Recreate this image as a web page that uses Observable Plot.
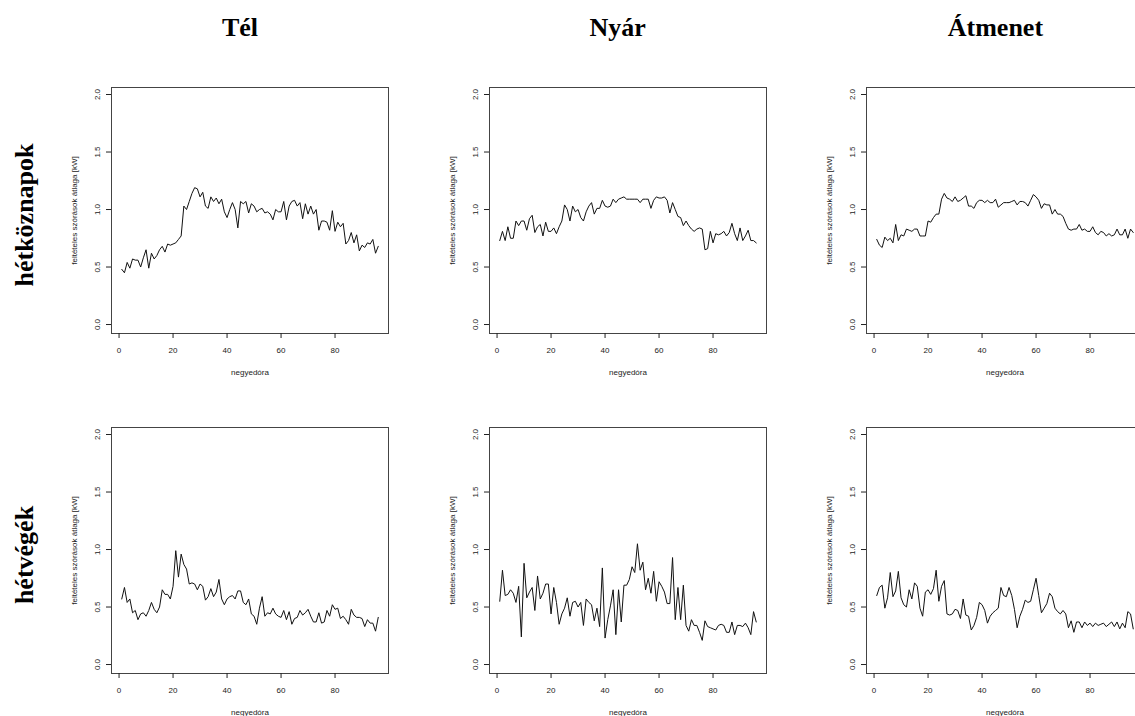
<!DOCTYPE html>
<html><head><meta charset="utf-8">
<script src="https://cdn.jsdelivr.net/npm/d3@7"></script>
<script src="https://cdn.jsdelivr.net/npm/@observablehq/plot@0.6"></script>
<style>
html,body{margin:0;padding:0;background:#fff;overflow:hidden;}
#page{position:relative;width:1135px;height:716px;overflow:hidden;background:#fff;}
.panel{position:absolute;}
.panel svg{max-width:none !important;display:block;}
#titles{position:absolute;left:0;top:0;pointer-events:none;}
</style></head>
<body><div id="page"></div>
<script>
// ---- data ----
const colTitles = ["Tél", "Nyár", "Átmenet"];
const rowTitles = ["hétköznapok", "hétvégék"];
const xLabel = "negyedóra";
const yLabel = "feltételes szórások átlaga [kW]";
const xTicks = [0, 20, 40, 60, 80];
const yTicks = [0, 0.5, 1, 1.5, 2];
const negyedora = d3.range(1, 97);

const telHetkoznap = [
 0.48,0.45,0.54,0.49,0.57,0.56,0.56,0.50,0.58,0.65,0.49,0.62,
 0.57,0.60,0.65,0.68,0.63,0.70,0.69,0.70,0.71,0.74,0.77,1.03,
 1.00,1.07,1.14,1.19,1.18,1.11,1.15,1.03,1.01,1.11,1.07,1.10,
 1.05,1.09,0.98,0.93,1.00,1.06,1.00,0.84,1.07,1.05,1.07,0.97,
 1.05,1.03,0.98,1.00,1.01,0.97,0.98,0.96,0.91,1.00,0.98,0.98,
 1.07,0.91,1.03,1.07,1.08,1.03,1.06,0.92,1.05,0.96,1.03,0.96,
 1.00,0.82,0.90,0.90,0.89,0.82,0.99,0.81,0.89,0.85,0.88,0.70,
 0.73,0.80,0.71,0.78,0.64,0.69,0.67,0.71,0.70,0.74,0.62,0.68];
const nyarHetkoznap = [
 0.73,0.81,0.73,0.85,0.75,0.75,0.90,0.86,0.90,0.90,0.82,0.92,
 0.95,0.80,0.85,0.87,0.77,0.89,0.81,0.81,0.84,0.79,0.85,0.90,
 1.04,1.00,0.90,1.03,0.98,1.00,0.93,0.90,0.98,1.03,1.06,0.96,
 1.01,1.01,1.08,1.03,1.02,1.03,1.09,1.06,1.09,1.10,1.11,1.09,
 1.09,1.09,1.09,1.09,1.06,1.09,1.09,1.09,1.01,1.08,1.11,1.10,
 1.10,1.11,1.08,0.97,1.06,1.00,0.94,0.93,0.86,0.90,0.86,0.83,
 0.81,0.83,0.84,0.83,0.65,0.66,0.81,0.71,0.79,0.78,0.79,0.81,
 0.77,0.80,0.88,0.79,0.73,0.84,0.73,0.77,0.82,0.73,0.73,0.71];
const atmenetHetkoznap = [
 0.74,0.69,0.67,0.76,0.73,0.75,0.71,0.87,0.73,0.78,0.77,0.83,
 0.82,0.81,0.83,0.83,0.77,0.77,0.77,0.90,0.89,0.93,0.96,0.96,
 1.09,1.14,1.10,1.09,1.07,1.11,1.07,1.08,1.10,1.12,1.03,1.03,
 1.01,1.06,1.08,1.08,1.06,1.08,1.06,1.06,1.09,1.02,1.04,1.06,
 1.06,1.06,1.07,1.08,1.04,1.07,1.07,1.06,1.03,1.08,1.13,1.11,
 1.08,1.01,1.05,1.04,1.04,0.96,1.00,0.96,0.96,0.94,0.88,0.83,
 0.82,0.83,0.83,0.87,0.82,0.83,0.81,0.81,0.85,0.80,0.78,0.81,
 0.80,0.77,0.79,0.77,0.78,0.83,0.78,0.78,0.83,0.75,0.83,0.80];
const telHetvege = [
 0.57,0.67,0.54,0.57,0.45,0.47,0.39,0.44,0.45,0.42,0.47,0.54,
 0.48,0.45,0.50,0.65,0.61,0.61,0.57,0.68,0.99,0.76,0.96,0.87,
 0.83,0.70,0.71,0.70,0.65,0.70,0.68,0.56,0.59,0.66,0.59,0.63,
 0.74,0.57,0.52,0.57,0.59,0.60,0.57,0.64,0.64,0.54,0.52,0.57,
 0.44,0.42,0.35,0.49,0.59,0.42,0.45,0.44,0.49,0.44,0.42,0.41,
 0.47,0.39,0.46,0.35,0.40,0.41,0.47,0.43,0.45,0.48,0.42,0.37,
 0.37,0.45,0.36,0.37,0.47,0.42,0.52,0.48,0.49,0.40,0.42,0.39,
 0.35,0.48,0.43,0.41,0.41,0.40,0.33,0.39,0.36,0.36,0.29,0.41];
const nyarHetvege = [
 0.55,0.82,0.60,0.61,0.65,0.62,0.54,0.68,0.24,0.88,0.58,0.63,
 0.67,0.47,0.77,0.57,0.62,0.70,0.70,0.44,0.67,0.54,0.35,0.44,
 0.49,0.58,0.42,0.54,0.55,0.50,0.54,0.34,0.57,0.54,0.52,0.38,
 0.49,0.33,0.84,0.23,0.39,0.51,0.65,0.26,0.65,0.37,0.69,0.69,
 0.74,0.85,0.80,1.05,0.82,0.89,0.65,0.75,0.62,0.81,0.55,0.72,
 0.68,0.63,0.53,0.53,0.93,0.39,0.67,0.39,0.69,0.34,0.29,0.39,
 0.34,0.34,0.28,0.21,0.38,0.33,0.32,0.31,0.30,0.34,0.35,0.34,
 0.28,0.28,0.37,0.26,0.34,0.34,0.33,0.36,0.32,0.26,0.46,0.37];
const atmenetHetvege = [
 0.60,0.67,0.69,0.49,0.58,0.80,0.59,0.64,0.81,0.58,0.52,0.50,
 0.65,0.57,0.71,0.68,0.49,0.42,0.63,0.65,0.61,0.66,0.82,0.55,
 0.68,0.73,0.44,0.43,0.44,0.48,0.47,0.40,0.57,0.43,0.42,0.30,
 0.34,0.41,0.54,0.52,0.47,0.36,0.42,0.45,0.47,0.49,0.67,0.60,
 0.59,0.67,0.60,0.48,0.32,0.42,0.48,0.56,0.54,0.55,0.65,0.75,
 0.60,0.45,0.49,0.53,0.62,0.59,0.49,0.46,0.44,0.47,0.44,0.32,
 0.38,0.28,0.37,0.37,0.32,0.37,0.34,0.36,0.33,0.36,0.34,0.35,
 0.36,0.33,0.35,0.37,0.33,0.37,0.31,0.36,0.32,0.46,0.44,0.31];

const grid = [
  [telHetkoznap, nyarHetkoznap, atmenetHetkoznap],
  [telHetvege, nyarHetvege, atmenetHetvege]
];

// ---- layout ----
const page = document.getElementById("page");
const ML = 60, MR = 10, MT = 10, MB = 55, BW = 277, BH = 246;
const colStep = 377.7, rowStep = 340, box0x = 111, box0y = 87;

grid.forEach((row, r) => {
  row.forEach((values, c) => {
    const boxLeft = Math.round(box0x + c * colStep);
    const boxTop = box0y + r * rowStep;
    const data = values.map((v, i) => ({q: negyedora[i], v}));
    const W = ML + BW + MR, H = MT + BH + MB;
    const chart = Plot.plot({
      width: W,
      height: H,
      marginLeft: ML, marginRight: MR, marginTop: MT, marginBottom: MB,
      style: {fontFamily: "'Liberation Sans', Arial, sans-serif", fontSize: "8px", color: "#222", background: "transparent", overflow: "visible", maxWidth: "none"},
      x: {domain: [-2.8, 99.8]},
      y: {domain: [-0.078, 2.061]},
      marks: [
        Plot.frame({stroke: "#444"}),
        Plot.axisX({ticks: xTicks, tickSize: 5, tickPadding: 9, label: xLabel, labelAnchor: "center", labelOffset: 41, labelArrow: false}),
        Plot.axisY({ticks: yTicks, tickSize: 5, tickPadding: 7, tickRotate: -90, tickFormat: d3.format(".1f"), label: yLabel, labelAnchor: "center", labelOffset: 40, labelArrow: false}),
        Plot.lineY(data, {x: "q", y: "v", stroke: "#111", strokeWidth: 1})
      ]
    });
    const div = document.createElement("div");
    div.className = "panel";
    div.style.left = (boxLeft - ML) + "px";
    div.style.top = (boxTop - MT) + "px";
    div.style.width = W + "px";
    div.style.height = H + "px";
    div.appendChild(chart);
    page.appendChild(div);
  });
});

// ---- titles ----
const svg = d3.select(page).append("svg").attr("id", "titles")
  .attr("width", 1135).attr("height", 716)
  .style("font-family", "'Liberation Serif', 'Times New Roman', serif")
  .style("font-weight", "bold").style("font-size", "26px");
colTitles.forEach((t, c) => {
  svg.append("text").attr("x", 240 + c * colStep).attr("y", 36)
    .attr("text-anchor", "middle").attr("fill", "#000").text(t);
});
rowTitles.forEach((t, r) => {
  const cy = [215, 555][r];
  svg.append("text").attr("transform", `translate(33,${cy}) rotate(-90)`)
    .attr("text-anchor", "middle").attr("fill", "#000").text(t);
});
</script>
</body></html>
